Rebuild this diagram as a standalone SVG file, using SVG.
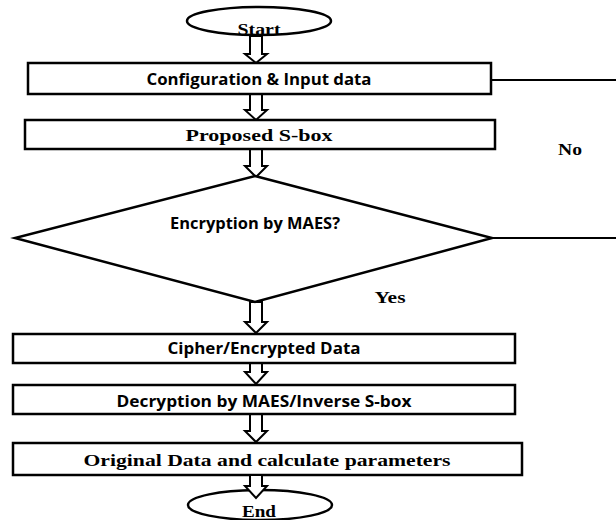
<svg xmlns="http://www.w3.org/2000/svg" width="616" height="520" viewBox="0 0 616 520">
<style>
.box{fill:#fff;stroke:#000;stroke-width:2.5}
.term{fill:#fff;stroke:#000;stroke-width:2.5}
.line{fill:none;stroke:#000;stroke-width:2}
.arr{fill:#fff;stroke:#000;stroke-width:2;stroke-linejoin:miter}
.sans{font-family:"Open Sans","Liberation Sans",sans-serif;font-weight:bold;font-size:15.5px;fill:#000;text-anchor:middle}
.serif{font-family:"Liberation Serif","DejaVu Serif",serif;font-weight:bold;font-size:17.5px;fill:#000;text-anchor:middle}
</style>
<rect width="616" height="520" fill="#fff"/>
<g id="connectors">
<path class="line" d="M491,80 H616"/>
<path class="line" d="M492,238 H616"/>
<polygon class="arr" points="250,94 262,94 262,110 267,110 256,120 245,110 250,110"/>
<polygon class="arr" points="250,149 262,149 262,166 267,166 256,177 245,166 250,166"/>
<polygon class="arr" points="250,302 262,302 262,322 267,322 256,333 245,322 250,322"/>
<polygon class="arr" points="250,363 262,363 262,372 267,372 256,384 245,372 250,372"/>
<polygon class="arr" points="250,414 262,414 262,431 267,431 256,442 245,431 250,431"/>
</g>
<g id="start">
<ellipse class="term" cx="259" cy="21" rx="72" ry="14"/>
<text class="serif" x="259" y="35" textLength="43" lengthAdjust="spacingAndGlyphs">Start</text>
</g>
<polygon class="arr" points="250,36 262,36 262,54 267,54 256,63 245,54 250,54"/>
<g id="config">
<rect class="box" x="28" y="63" width="463" height="31"/>
<text class="sans" x="259" y="85" textLength="225" lengthAdjust="spacingAndGlyphs">Configuration &amp; Input data</text>
</g>
<g id="sbox">
<rect class="box" x="25" y="120" width="470" height="29"/>
<text class="serif" x="259" y="141" textLength="147" lengthAdjust="spacingAndGlyphs">Proposed S-box</text>
</g>
<g id="decision">
<polygon class="box" points="255,176 492,238 255,302 15,238"/>
<text class="sans" x="255" y="229" textLength="170" lengthAdjust="spacingAndGlyphs">Encryption by MAES?</text>
</g>
<g id="label-no"><text class="serif" x="570" y="155" textLength="24" lengthAdjust="spacingAndGlyphs">No</text></g>
<g id="label-yes"><text class="serif" x="390" y="303" textLength="31" lengthAdjust="spacingAndGlyphs">Yes</text></g>
<g id="cipher">
<rect class="box" x="13" y="334" width="502" height="29"/>
<text class="sans" x="264" y="354" textLength="193" lengthAdjust="spacingAndGlyphs">Cipher/Encrypted Data</text>
</g>
<g id="decrypt">
<rect class="box" x="13" y="385" width="502" height="29"/>
<text class="sans" x="264" y="407" textLength="295" lengthAdjust="spacingAndGlyphs">Decryption by MAES/Inverse S-box</text>
</g>
<g id="original">
<rect class="box" x="13" y="443" width="509" height="32"/>
<text class="serif" x="267" y="466" textLength="367" lengthAdjust="spacingAndGlyphs">Original Data and calculate parameters</text>
</g>
<g id="end">
<ellipse class="term" cx="260" cy="505" rx="72" ry="15"/>
<text class="serif" x="259" y="517" textLength="34" lengthAdjust="spacingAndGlyphs">End</text>
</g>
<polygon class="arr" points="250,475 262,475 262,486 267,486 256,498 245,486 250,486"/>
</svg>
